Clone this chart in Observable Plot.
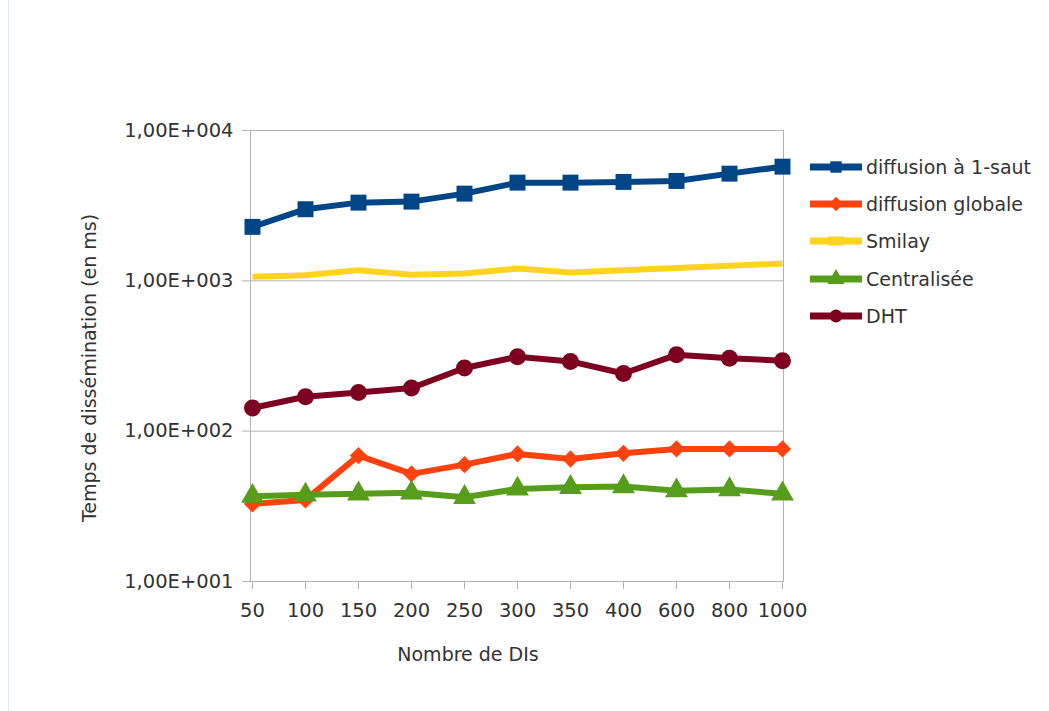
<!DOCTYPE html>
<html><head><meta charset="utf-8">
<script src="https://cdn.jsdelivr.net/npm/d3@7"></script>
<script src="https://cdn.jsdelivr.net/npm/@observablehq/plot@0.6"></script>
<style>
body{margin:0;background:#fff;}
#wrap{position:relative;width:1049px;height:711px;overflow:hidden;font-family:"DejaVu Sans",sans-serif;background:#fff;}
#edge{position:absolute;left:8px;top:0;bottom:0;border-left:1px solid #dfe9f2;}
#chart{position:absolute;left:0;top:0;}
#legend{position:absolute;left:810px;top:0;}
.item{position:absolute;left:0;height:24px;display:flex;align-items:center;white-space:nowrap;font-size:19px;color:#333;}
.item svg{margin-right:4px;}
</style></head><body>
<div id="wrap"><div id="edge"></div><div id="chart"></div><div id="legend"></div></div>
<script>
// ---- data ----
const categories = ["50","100","150","200","250","300","350","400","600","800","1000"];
const seriesNames = ["diffusion à 1-saut","diffusion globale","Smilay","Centralisée","DHT"];
const seriesColors = ["#004586","#ff420e","#ffd320","#579d1c","#7e0021"];
const seriesSymbols = ["square","diamond2",null,"triangle","circle"];
const hop1   = [2285,2995,3313,3365,3802,4500,4500,4548,4617,5164,5748];
const globale = [32.8,34.9,68.8,52.0,59.9,70.6,65.3,71.2,76.2,76.2,76.2];
const smilay  = [1063,1091,1178,1096,1118,1207,1135,1178,1215,1259,1303];
const central = [36.9,37.7,38.3,38.9,36.3,41.3,42.3,42.8,40.2,40.9,38.3];
const dht     = [142.6,169.5,181,193.6,263,312.6,291,242,322,306,294];
const yTicks = [10,100,1000,10000];
const xTitle = "Nombre de DIs";
const yTitle = "Temps de dissémination (en ms)";

const seriesValues = [hop1, globale, smilay, central, dht];
const rows = [];
seriesNames.forEach((s, i) => categories.forEach((c, j) => rows.push({series: s, cat: c, value: seriesValues[i][j]})));

const fmt = d => "1,00E+" + String(Math.round(Math.log10(d))).padStart(3, "0");
const symR = {square: 9, diamond2: 7.8, triangle: 8.5, circle: 8.5};

const lineMarks = [];
seriesNames.forEach((s, i) => {
  const data = rows.filter(r => r.series === s);
  lineMarks.push(Plot.line(data, {x: "cat", y: "value", stroke: seriesColors[i], strokeWidth: 6, strokeLinejoin: "round", strokeLinecap: "butt"}));
  if (seriesSymbols[i]) {
    lineMarks.push(Plot.dot(data, {x: "cat", y: "value", symbol: () => seriesSymbols[i], r: symR[seriesSymbols[i]], fill: seriesColors[i], stroke: "none"}));
  }
});

const chart = Plot.plot({
  width: 1049, height: 711,
  marginLeft: 250, marginRight: 266, marginTop: 130, marginBottom: 130,
  style: {fontFamily: "'DejaVu Sans', sans-serif", fontSize: "19.5px", color: "#333", background: "transparent"},
  x: {type: "point", domain: categories, padding: 0},
  y: {type: "log", domain: [10, 10000]},
  symbol: {type: "identity"},
  marks: [
    Plot.gridY(yTicks, {stroke: "#b3b3b3", strokeOpacity: 1}),
    Plot.frame({stroke: "#b3b3b3"}),
    Plot.axisY(yTicks, {tickFormat: fmt, tickSize: 8, tickPadding: 9, stroke: "#b3b3b3", fill: "#333", label: null}),
    Plot.axisX({tickSize: 8, tickPadding: 14, stroke: "#b3b3b3", fill: "#333", label: null}),
    ...lineMarks,
    Plot.text([xTitle], {frameAnchor: "bottom", text: d => d, dx: -49, dy: 66, lineAnchor: "top", textAnchor: "middle", fill: "#333", fontSize: 19}),
    Plot.text([yTitle], {frameAnchor: "left", text: d => d, rotate: -90, dx: -161, dy: 12, textAnchor: "middle", lineAnchor: "middle", fill: "#333", fontSize: 19})
  ]
});
document.getElementById("chart").appendChild(chart);

// ---- legend ----
const legend = d3.select("#legend");
seriesNames.forEach((s, i) => {
  const item = legend.append("div").attr("class", "item").style("top", (155 + i * 37.2) + "px");
  const svg = item.append("svg").attr("width", 52).attr("height", 24);
  svg.append("line").attr("x1", 0).attr("x2", 52).attr("y1", 12).attr("y2", 12)
    .attr("stroke", seriesColors[i]).attr("stroke-width", 7);
  const sym = seriesSymbols[i];
  const d3sym = {square: d3.symbolSquare, diamond2: d3.symbolDiamond2, triangle: d3.symbolTriangle, circle: d3.symbolCircle}[sym];
  if (d3sym) {
    svg.append("path").attr("transform", "translate(26,12)")
      .attr("d", d3.symbol(d3sym, 130)()).attr("fill", seriesColors[i]);
  } else {
    svg.append("rect").attr("x", 18).attr("y", 7.5).attr("width", 16).attr("height", 9).attr("fill", seriesColors[i]);
  }
  item.append("span").text(s);
});
</script>
</body></html>
